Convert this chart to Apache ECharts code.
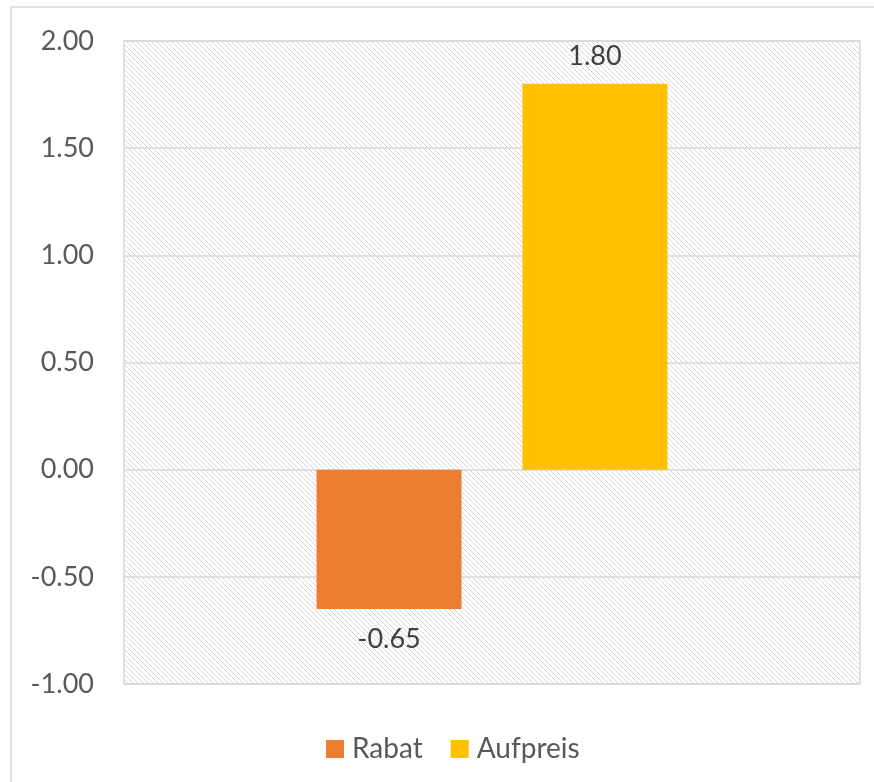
<!DOCTYPE html>
<html>
<head>
<meta charset="utf-8">
<script src="https://cdn.jsdelivr.net/npm/echarts@6/dist/echarts.min.js"></script>
<style>
  html, body { margin: 0; padding: 0; background: #fff; }
  #chart { width: 874px; height: 782px; }
</style>
</head>
<body>
<div id="chart"></div>
<script>
// data
var seriesNames = ['Rabat', 'Aufpreis']
var seriesValues = [-0.65, 1.80]
var seriesColors = ['#ED7D31', '#FFC000']
var yMin = -1
var yMax = 2
var yStep = 0.5

// light downward diagonal hatch like the office chart fill
function hatch() {
  var c = document.createElement('canvas')
  c.width = 10
  c.height = 10
  var ctx = c.getContext('2d')
  ctx.fillStyle = '#ffffff'
  ctx.fillRect(0, 0, 10, 10)
  ctx.fillStyle = '#d6d6d6'
  for (var i = 0; i < 10; i++) {
    ctx.fillRect(i, i, 1, 1)
    ctx.fillRect((i + 5) % 10, i, 1, 1)
  }
  return c
}

var font = 'Lato, "Open Sans", sans-serif'
var chart = echarts.init(document.getElementById('chart'))

chart.setOption({
  animation: false,
  backgroundColor: '#fff',
  graphic: [{
    type: 'rect',
    shape: { x: 11, y: 7, width: 1000, height: 1000 },
    style: { fill: 'none', stroke: '#d9d9d9', lineWidth: 1.5 },
    silent: true
  }],
  grid: {
    left: 124,
    right: 14,
    top: 41,
    bottom: 98,
    show: true,
    backgroundColor: { image: hatch(), repeat: 'repeat' },
    borderColor: '#d9d9d9',
    borderWidth: 1.5
  },
  legend: {
    left: 321,
    top: 730,
    itemWidth: 18,
    itemHeight: 18,
    itemGap: 28,
    icon: 'rect',
    textStyle: { fontFamily: font, fontSize: 28, color: '#595959', padding: [0, 0, 0, 3] },
    data: seriesNames
  },
  xAxis: {
    type: 'category',
    data: [''],
    axisLine: { show: false },
    axisTick: { show: false },
    axisLabel: { show: false }
  },
  yAxis: {
    type: 'value',
    min: yMin,
    max: yMax,
    interval: yStep,
    axisLine: { show: false },
    axisTick: { show: false },
    axisLabel: {
      margin: 30,
      fontFamily: font,
      fontSize: 27,
      color: '#595959',
      formatter: function (v) { return v.toFixed(2) }
    },
    splitLine: { lineStyle: { color: '#d9d9d9', width: 1.5 } }
  },
  series: seriesNames.map(function (name, i) {
    return {
      name: name,
      type: 'bar',
      data: [seriesValues[i]],
      barWidth: 145,
      barGap: '42%',
      itemStyle: { color: seriesColors[i] },
      label: {
        show: true,
        position: seriesValues[i] < 0 ? 'bottom' : 'top',
        distance: seriesValues[i] < 0 ? 17 : 14,
        fontFamily: font,
        fontSize: 27,
        color: '#404040',
        formatter: function (p) { return p.value.toFixed(2) }
      }
    }
  })
})
</script>
</body>
</html>
